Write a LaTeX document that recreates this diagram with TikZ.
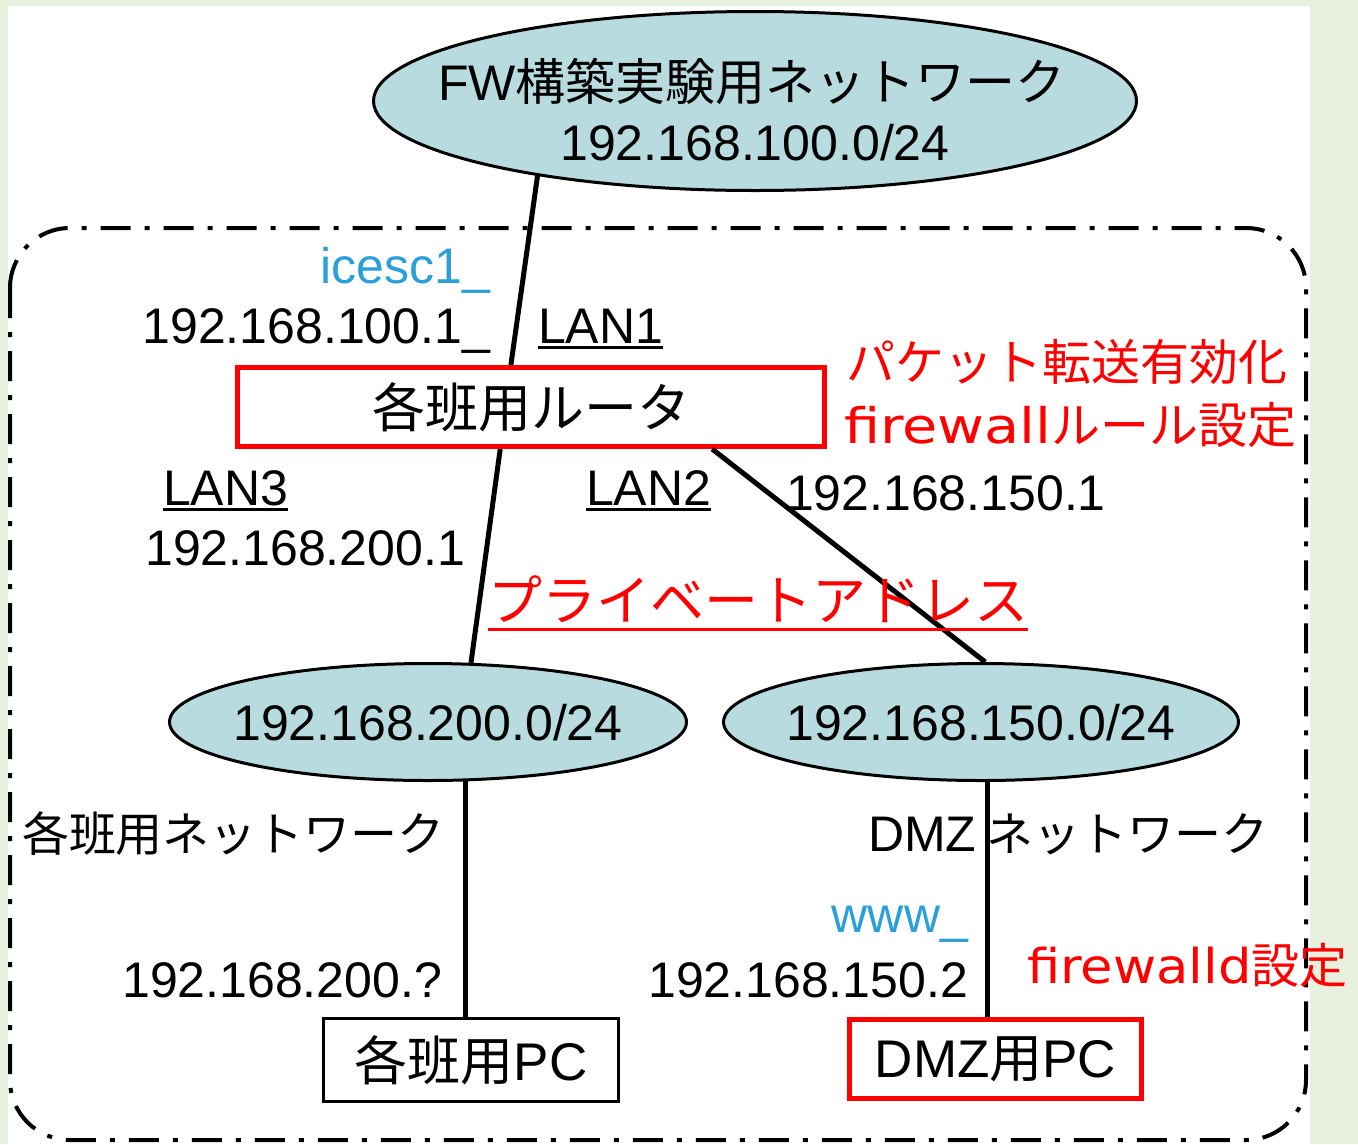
\documentclass[tikz,border=0pt]{standalone}
\usepackage{fontspec}
\usetikzlibrary{shapes.geometric,calc}
\newfontfamily\jp{Noto Sans CJK JP}
\newfontfamily\ar{Liberation Sans}
\newfontfamily\dv[FakeStretch=1.17]{DejaVu Sans}
\newfontfamily\dvn[FakeStretch=1.10]{DejaVu Sans}
\definecolor{bggreen}{HTML}{E8F1DE}
\definecolor{netblue}{HTML}{B7DBDF}
\definecolor{lblblue}{HTML}{2A9FD8}
\definecolor{fwred}{HTML}{FF0000}
\newcommand\fsz[1]{\fontsize{#1}{#1}\selectfont}
\newsavebox\ulbox
\newcommand\ulin[3]{\sbox\ulbox{#3}\rlap{\rule[-#1]{\wd\ulbox}{#2}}\usebox\ulbox}
\begin{document}
\begin{tikzpicture}[x=1pt,y=-1pt,
  net/.style={ellipse, draw=black, line width=3pt, fill=netblue, inner sep=0pt},
  rbox/.style={rectangle, draw=fwred, line width=5pt, inner sep=0pt},
  bbox/.style={rectangle, draw=black, line width=3pt, inner sep=0pt},
  link/.style={line width=5pt, draw=black},
  lbl/.style={inner sep=0pt, outer sep=0pt, font=\ar\fsz{50}},
  jlbl/.style={inner sep=0pt, outer sep=0pt, font=\jp\fsz{47}},
  rlbl/.style={inner sep=0pt, outer sep=0pt, text=fwred, font=\jp\fsz{49}},
  zone/.style={line width=4pt, dash pattern=on 30pt off 14pt on 5pt off 14pt, rounded corners=60pt}
]
\fill[bggreen] (0,0) rectangle (1358,1144);
\useasboundingbox (0,0) rectangle (1358,1144);
\fill[white] (8,6) rectangle (1310,1144);
\draw[zone] (10,228) rectangle (1306,1140);

% networks
\node[net, minimum width=763pt, minimum height=179pt] (topnet) at (755,101) {};
\node[net, minimum width=517pt, minimum height=117pt] (leftnet) at (428,722) {};
\node[net, minimum width=515pt, minimum height=117pt] (rightnet) at (981,722) {};
\node[lbl, anchor=base] (topname) at (752,100) {FW{\jp 構築実験用ネットワーク}};
\node[lbl, anchor=base] (topaddr) at (755,160) {192.168.100.0/24};
\node[lbl, anchor=base] (leftaddr) at (428,740) {192.168.200.0/24};
\node[lbl, anchor=base] (rightaddr) at (981,740) {192.168.150.0/24};

% devices
\node[rbox, minimum width=587pt, minimum height=79pt, font=\jp\fsz{53}] (router) at (531,407) {各班用ルータ};
\node[bbox, minimum width=295pt, minimum height=83pt, font=\jp\fsz{53}] (pc1) at (471,1060) {各班用{\ar PC}};
\node[rbox, minimum width=292pt, minimum height=79pt, font=\jp\fsz{53}] (pc2) at (995.5,1059) {{\ar DMZ}用{\ar PC}};

% links
\draw[link] (topnet.199) -- ($(router.north west)!0.466!(router.north east)$);
\draw[link] ($(router.south west)!0.448!(router.south east)$) -- (leftnet.54);
\draw[link] ($(router.south west)!0.806!(router.south east)$) -- (rightnet.86);
\draw[link] (leftnet.302.5) -- (leftnet.302.5 |- pc1.north);
\draw[link] (rightnet.276) -- (rightnet.276 |- pc2.north);

% labels
\node[lbl, text=lblblue, anchor=base east] (icesc) at (490,283) {icesc1\_};
\node[lbl, anchor=base east] (ip1001) at (490,343) {192.168.100.1\_};
\node[lbl, anchor=base west] (lan1) at (538,343) {\ulin{6pt}{3pt}{LAN1}};
\node[lbl, anchor=base west] (lan3) at (163,505) {\ulin{6pt}{3pt}{LAN3}};
\node[lbl, anchor=base east] (ip2001) at (465,565) {192.168.200.1};
\node[lbl, anchor=base west] (lan2) at (586,505) {\ulin{6pt}{3pt}{LAN2}};
\node[lbl, anchor=base west] (ip1501) at (786,510) {192.168.150.1};
\node[jlbl, anchor=west] (hannet) at (22,834) {各班用ネットワーク};
\node[jlbl, anchor=west] (dmznet) at (868,834) {{\ar\fsz{50}DMZ} ネットワーク};
\node[lbl, text=lblblue, anchor=base east] (www) at (968,932) {www\_};
\node[lbl, anchor=base east] (ip1502) at (968,997) {192.168.150.2};
\node[lbl, anchor=base east] (ip200q) at (442,997) {192.168.200.?};

% red notes
\node[rlbl, anchor=west] (fwd) at (846,362) {パケット転送有効化};
\node[rlbl, anchor=west] (fwrule) at (844,425) {{\dv firewall}ルール設定};
\node[rlbl, anchor=base west, font=\jp\fsz{54}] (priv) at (488,620) {\ulin{11pt}{3pt}{プライベートアドレス}};
\node[rlbl, anchor=west, font=\jp\fsz{48}] (fwd2) at (1027,965) {{\dvn firewalld}設定};
\end{tikzpicture}
\end{document}
